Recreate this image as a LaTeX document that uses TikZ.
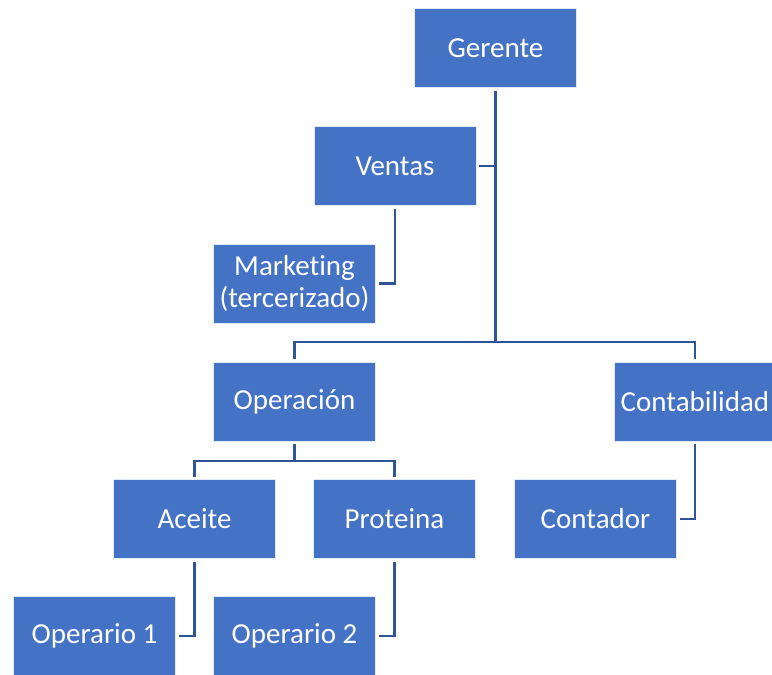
\documentclass[tikz,border=0pt]{standalone}
\usepackage{fontspec}
\setmainfont[Ligatures=NoCommon]{Carlito}
\definecolor{boxblue}{HTML}{4472C4}
\definecolor{linkblue}{HTML}{2F5597}
\begin{document}
\begin{tikzpicture}[x=1pt,y=-1pt,
  orgbox/.style={draw=white!85!boxblue, line width=0.8pt, fill=boxblue, text=white,
    minimum width=162pt, minimum height=79pt, inner sep=0pt, outer sep=3pt,
    align=center, font=\fontsize{29}{32}\selectfont},
  link/.style={draw=linkblue, line width=2.3pt}]
\clip (0,0) rectangle (772,675);
\node[orgbox] (ger) at (495.5,48) {Gerente};
\node[orgbox] (ven) at (395,166) {Ventas};
\node[orgbox] (mkt) at (294.5,283.5) {Marketing\\(tercerizado)};
\node[orgbox] (op) at (294.5,401.5) {Operación};
\node[orgbox] (cont) at (695,401.5) {Contabilidad};
\node[orgbox] (ace) at (194.5,519) {Aceite};
\node[orgbox] (pro) at (394.5,519) {Proteina};
\node[orgbox] (ctd) at (595.5,519) {Contador};
\node[orgbox] (op1) at (94.5,636) {Operario 1};
\node[orgbox] (op2) at (294.5,636) {Operario 2};
\coordinate (b1) at (495.5,342);
\coordinate (b2) at (294.5,461);
\draw[link] (ger.south) -- (b1);
\draw[link] (op.north) |- (b1) -| (cont.north);
\draw[link] (ven.east) -- (ven.east -| ger.south);
\draw[link] (ven.south) |- (mkt.east);
\draw[link] (op.south) -- (b2);
\draw[link] (ace.north) |- (b2) -| (pro.north);
\draw[link] (cont.south) |- (ctd.east);
\draw[link] (ace.south) |- (op1.east);
\draw[link] (pro.south) |- (op2.east);
\end{tikzpicture}
\end{document}
